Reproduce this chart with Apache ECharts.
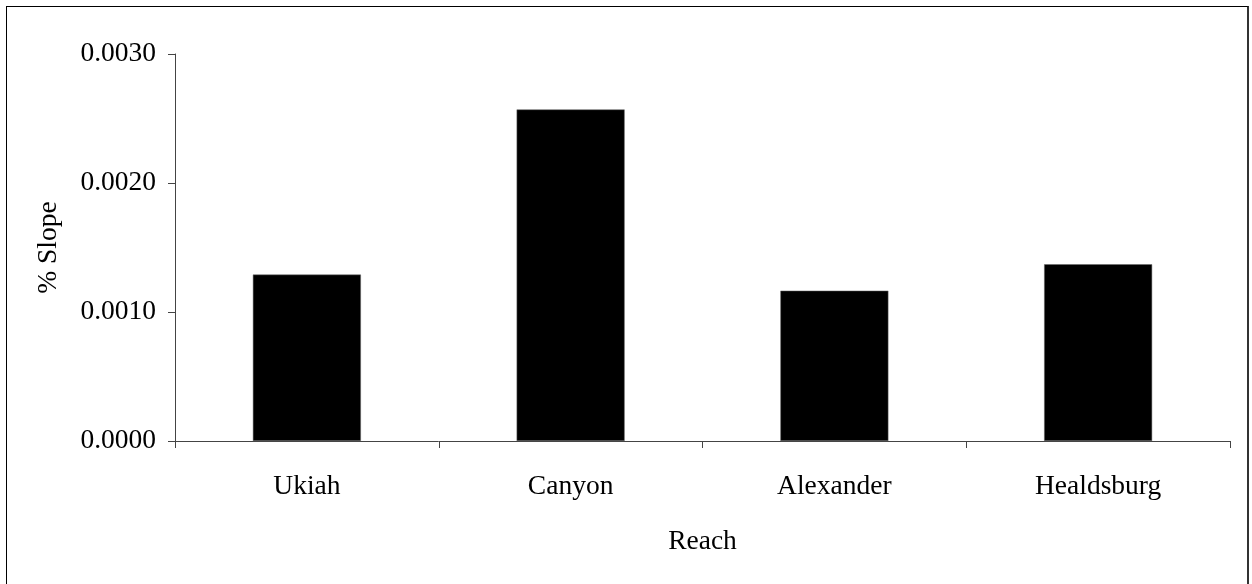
<!DOCTYPE html>
<html>
<head>
<meta charset="utf-8">
<script src="https://cdn.jsdelivr.net/npm/echarts@6/dist/echarts.min.js"></script>
<style>
html,body{margin:0;padding:0;background:#fff;}
#frame{position:absolute;left:6px;top:6px;width:1243px;height:600px;border:1.5px solid #000;border-right:2px solid #333;box-sizing:border-box;}
#chart{position:absolute;left:0;top:0;width:1252px;height:584px;}
</style>
</head>
<body>
<div id="frame"></div>
<div id="chart"></div>
<script>
const categories = ['Ukiah', 'Canyon', 'Alexander', 'Healdsburg'];
const slopeValues = [0.00129, 0.00257, 0.001165, 0.00137];
const yTicks = { min: 0, max: 0.003, interval: 0.001 };

const chart = echarts.init(document.getElementById('chart'), null, { renderer: 'canvas' });
const font = 'Liberation Serif';
const fs = 27.5;
chart.setOption({
  animation: false,
  backgroundColor: 'transparent',
  grid: { left: 175, right: 22, top: 54, bottom: 143 },
  xAxis: {
    type: 'category',
    data: categories,
    name: 'Reach',
    nameLocation: 'middle',
    nameGap: 87,
    nameTextStyle: { fontFamily: font, fontSize: fs, color: '#000' },
    axisLine: { lineStyle: { color: '#444', width: 1 } },
    axisTick: { show: true, length: 7, lineStyle: { color: '#444' } },
    axisLabel: { fontFamily: font, fontSize: fs, color: '#000', margin: 32 },
    splitLine: { show: false }
  },
  yAxis: {
    type: 'value',
    min: yTicks.min,
    max: yTicks.max,
    interval: yTicks.interval,
    name: '% Slope',
    nameLocation: 'middle',
    nameGap: 112,
    nameTextStyle: { fontFamily: font, fontSize: fs, color: '#000' },
    axisLine: { show: true, lineStyle: { color: '#444', width: 1 } },
    axisTick: { show: true, length: 7, lineStyle: { color: '#444' } },
    axisLabel: { fontFamily: font, fontSize: fs, color: '#000', margin: 19,
      formatter: v => v.toFixed(4) },
    splitLine: { show: false }
  },
  series: [{
    type: 'bar',
    data: slopeValues,
    barWidth: 108,
    itemStyle: { color: '#000', borderColor: '#666', borderWidth: 0.5 }
  }]
});
</script>
</body>
</html>
